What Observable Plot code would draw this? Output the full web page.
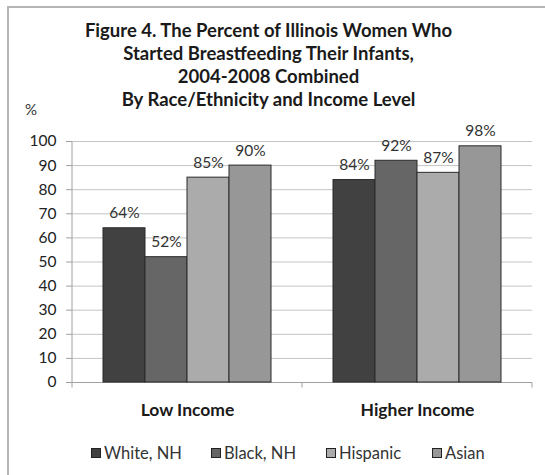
<!DOCTYPE html>
<html>
<head>
<meta charset="utf-8">
<script src="https://cdn.jsdelivr.net/npm/d3@7"></script>
<script src="https://cdn.jsdelivr.net/npm/@observablehq/plot@0.6"></script>
<style>
  html, body { margin: 0; padding: 0; background: #fff; }
  #wrap { position: relative; width: 545px; height: 475px; overflow: hidden; font-family: Lato, "Open Sans", sans-serif; color: #333; }
  #border { position: absolute; left: 7px; top: 6px; width: 560px; height: 480px; border-left: 2px solid #b5b5b5; border-top: 2px solid #b5b5b5; }
  #title { position: absolute; left: 0; width: 537px; top: 19px; text-align: center; font-weight: bold; font-size: 18.5px; line-height: 23px; color: #1a1a1a; }
  #pct { position: absolute; left: 25px; top: 100px; font-size: 15px; }
  #chart { position: absolute; left: 0; top: 115px; }
  #legend { position: absolute; top: 443px; left: 0; width: 545px; height: 20px; font-size: 16.5px; }
  .item { position: absolute; display: flex; align-items: center; white-space: nowrap; }
  .sw { width: 8px; height: 8px; border: 1px solid #222; margin-right: 3px; }
</style>
</head>
<body>
<div id="wrap">
  <div id="border"></div>
  <div id="title">Figure 4. The Percent of Illinois Women Who<br>Started Breastfeeding Their Infants,<br>2004-2008 Combined<br>By Race/Ethnicity and Income Level</div>
  <div id="pct">%</div>
  <div id="chart"></div>
  <div id="legend"></div>
</div>
<script>
const incomes = ["Low Income", "Higher Income"];
const races = ["White, NH", "Black, NH", "Hispanic", "Asian"];
const lowIncome = [64, 52, 85, 90];
const higherIncome = [84, 92, 87, 98];
const colors = ["#414141", "#666666", "#ababab", "#979797"];
const yTicks = [0, 10, 20, 30, 40, 50, 60, 70, 80, 90, 100];
const legendX = [91, 211, 326, 432];

const data = [];
races.forEach((r, i) => {
  data.push({income: incomes[0], race: r, value: lowIncome[i]});
  data.push({income: incomes[1], race: r, value: higherIncome[i]});
});

const axisBits = incomes.map((inc, i) => ({income: inc, first: i === 0}));

function axisRender(I, s, v, dim, ctx, next) {
  const g = next(I, s, v, dim, ctx);
  const [x0, x1] = s.x.range();
  const y0 = s.y(0);
  const ns = "http://www.w3.org/2000/svg";
  const add = (a, b, c, d) => {
    const l = document.createElementNS(ns, "line");
    l.setAttribute("x1", a); l.setAttribute("x2", b);
    l.setAttribute("y1", c); l.setAttribute("y2", d);
    l.setAttribute("stroke", "#a0a0a0");
    g.appendChild(l);
  };
  add(x1, x1, y0, y0 + 5);
  if (I.length && axisBits[I[0]].first) {
    add(x0, x0, s.y(100), y0 + 5);
  }
  return g;
}

const chart = Plot.plot({
  width: 545,
  height: 360,
  marginTop: 26,
  marginBottom: 93,
  marginLeft: 72,
  marginRight: 13,
  style: {fontFamily: "Lato, 'Open Sans', sans-serif", fontSize: "15px", color: "#333", background: "transparent"},
  fx: {domain: incomes, padding: 0, label: null},
  x: {domain: races, paddingInner: 0, paddingOuter: 0.738, axis: null},
  y: {domain: [0, 100], ticks: yTicks, label: null},
  color: {domain: races, range: colors},
  marks: [
    Plot.gridY(yTicks.filter(d => d > 0), {stroke: "#c4c4c4", strokeOpacity: 1}),
    Plot.ruleY(axisBits, {fx: "income", y: () => 0, stroke: "#a0a0a0", render: axisRender}),
    Plot.barY(data, {fx: "income", x: "race", y: "value", fill: "race", stroke: "#2a2a2a", strokeWidth: 1}),
    Plot.text(data, {fx: "income", x: "race", y: "value", text: d => d.value + "%", dy: -15, fill: "#333", fontSize: 15.5}),
    Plot.axisY({ticks: yTicks, tickSize: 6, tickPadding: 10, stroke: "#a0a0a0", fill: "#222", fontSize: 15.5, label: null}),
    Plot.axisFx({anchor: "bottom", tickSize: 0, tickPadding: 21, fontWeight: "bold", fontSize: 17.5, fill: "#1a1a1a", label: null})
  ]
});
document.getElementById("chart").appendChild(chart);

const legend = document.getElementById("legend");
races.forEach((r, i) => {
  const it = document.createElement("div");
  it.className = "item";
  it.style.left = legendX[i] + "px";
  const sw = document.createElement("div");
  sw.className = "sw";
  sw.style.background = colors[i];
  const t = document.createElement("span");
  t.textContent = r;
  it.appendChild(sw); it.appendChild(t);
  legend.appendChild(it);
});
</script>
</body>
</html>
